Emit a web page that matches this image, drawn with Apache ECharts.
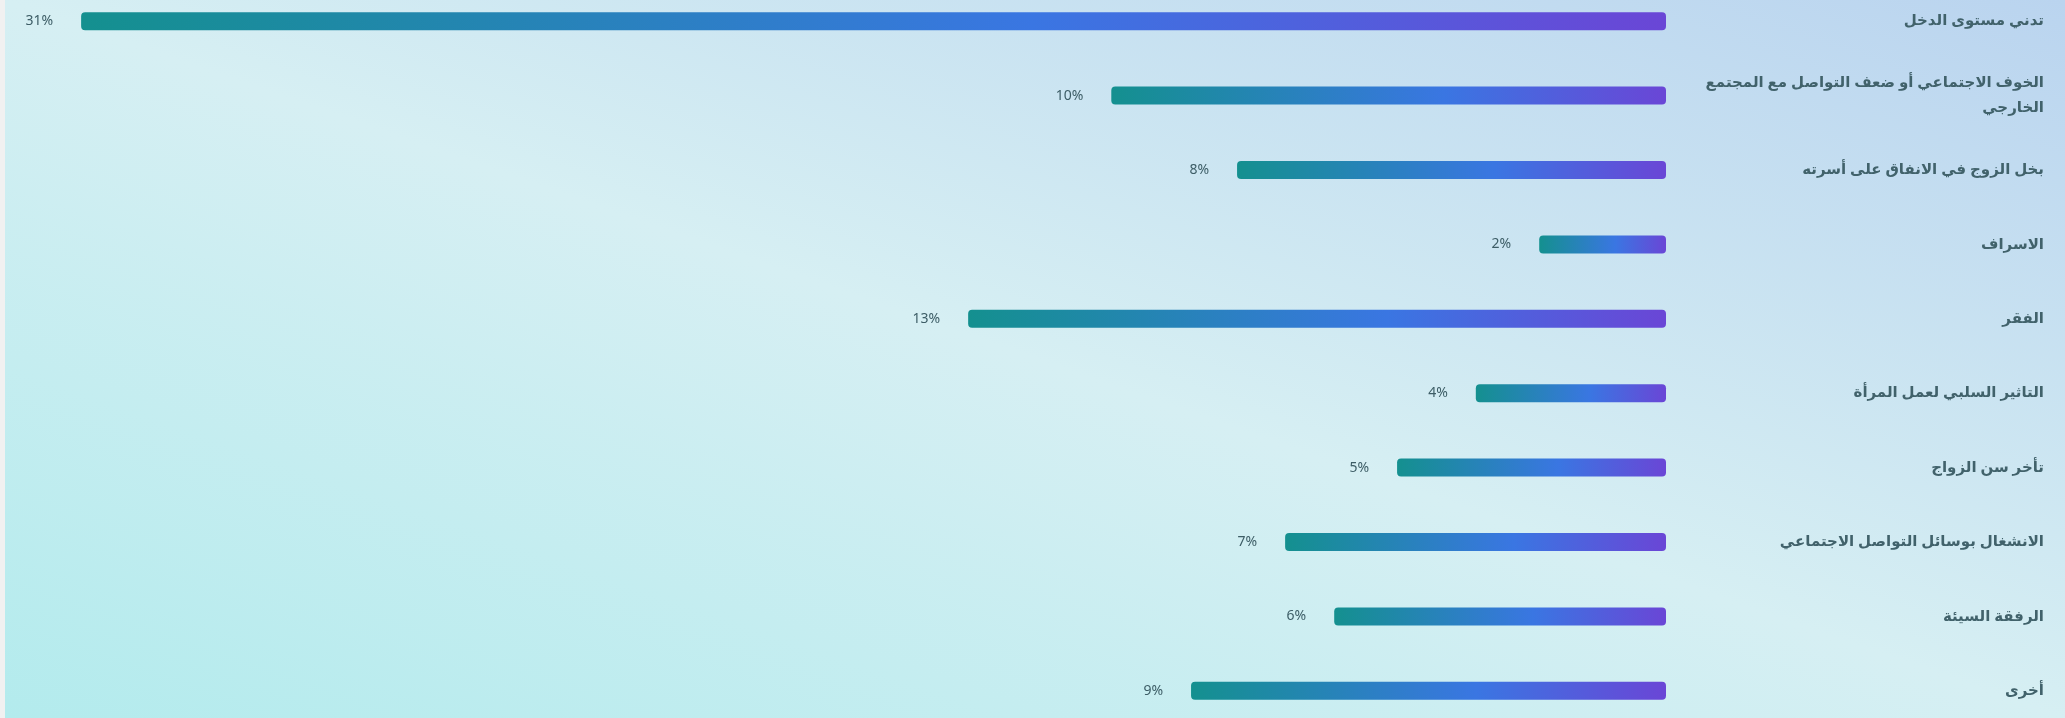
<!DOCTYPE html>
<html>
<head>
    <meta charset="utf-8">
    <title>ECharts</title>
    <script src="https://cdn.jsdelivr.net/npm/echarts@6/dist/echarts.min.js"></script>
    <style>
        html, body { margin: 0; padding: 0; background: #f1f1f1; }
        #main {
            position: absolute; left: 5px; top: 0;
            width: 2060px; height: 718px;
            background: linear-gradient(to top right, #b3ebed 0%, #d6eff3 50%, #bad4ef 100%);
        }
    </style>
</head>
<body>
    <div id="main"></div>
    <script type="text/javascript">
        // categories, top to bottom
        var categories = [
            'تدني مستوى الدخل',
            'الخوف الاجتماعي أو ضعف التواصل مع المجتمع\nالخارجي',
            'بخل الزوج في الانفاق على أسرته',
            'الاسراف',
            'الفقر',
            'التاثير السلبي لعمل المرأة',
            'تأخر سن الزواج',
            'الانشغال بوسائل التواصل الاجتماعي',
            'الرفقة السيئة',
            'أخرى'
        ];
        // bar lengths
        var barValues = [31.0, 10.85, 8.39, 2.48, 13.65, 3.72, 5.26, 7.45, 6.49, 9.29];
        // labels printed next to each bar
        var percentLabels = ['31%', '10%', '8%', '2%', '13%', '4%', '5%', '7%', '6%', '9%'];

        var myChart = echarts.init(document.getElementById('main'));

        var barColor = new echarts.graphic.LinearGradient(0, 0, 1, 0, [
            { offset: 0, color: '#14908f' },
            { offset: 0.6, color: '#3a76e2' },
            { offset: 1, color: '#6a46d6' }
        ]);

        var option = {
            backgroundColor: 'transparent',
            grid: {
                left: 25,
                right: 399,
                top: -16,
                bottom: -10,
                containLabel: false,
                outerBoundsMode: 'none'
            },
            xAxis: {
                type: 'value',
                inverse: true,
                min: 0,
                max: 32,
                show: false,
                splitLine: { show: false }
            },
            yAxis: {
                type: 'category',
                data: categories,
                inverse: true,
                position: 'right',
                axisLine: { show: false },
                axisTick: { show: false },
                splitLine: { show: false },
                axisLabel: {
                    align: 'right',
                    margin: 378,
                    fontSize: 15,
                    fontWeight: 'bold',
                    lineHeight: 25,
                    color: '#41626b',
                    fontFamily: 'Noto Sans, DejaVu Sans'
                }
            },
            series: [{
                type: 'bar',
                data: barValues,
                barWidth: 18,
                itemStyle: {
                    color: barColor,
                    borderRadius: 4
                },
                label: {
                    show: true,
                    position: 'left',
                    distance: 28,
                    fontSize: 14,
                    color: '#3d5d66',
                    fontFamily: 'Noto Sans',
                    formatter: function (p) {
                        return percentLabels[p.dataIndex];
                    }
                }
            }]
        };

        myChart.setOption(option);
    </script>
</body>
</html>
